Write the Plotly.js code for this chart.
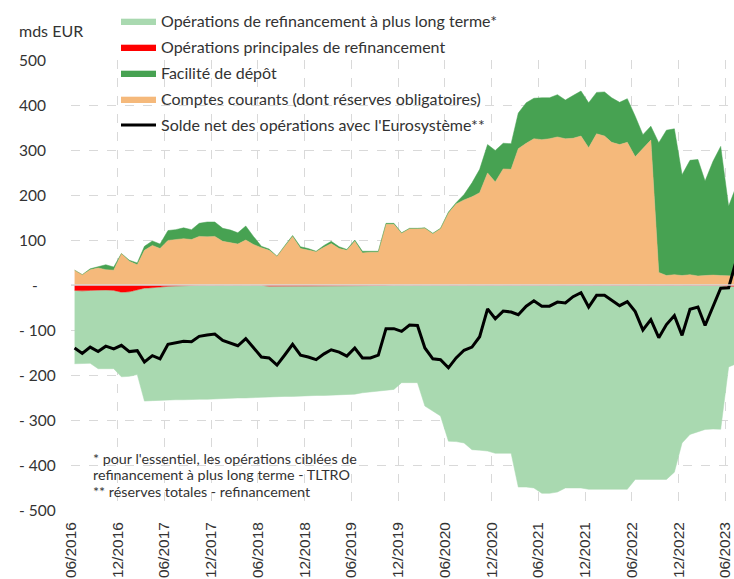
<!DOCTYPE html>
<html>
<head>
<meta charset="utf-8">
<script src="https://cdn.plot.ly/plotly-3.0.1.min.js"></script>
<style>html,body{margin:0;padding:0;background:#fff;}#chart{width:734px;height:579px;}</style>
</head>
<body>
<div id="chart"></div>
<script>
// ---- categories: monthly observations from 06/2016 ----
const startYear = 2016, startMonth = 6, nMonths = 86;
const months = [];
for (let i = 0; i < nMonths; i++) {
  const y = startYear + Math.floor((startMonth - 1 + i) / 12);
  const mo = (startMonth - 1 + i) % 12 + 1;
  months.push(y + '-' + String(mo).padStart(2, '0') + '-15');
}

// ---- series (mds EUR) ----
const comptesCourants = [33,23,34,38,34,33,70,53,45,77,
  88,81,99,101,103,101,108,107,108,97,
  94,91,100,90,83,77,64,86,108,81,
  78,74,84,92,81,77,97,71,73,73,
  135,135,115,125,125,126,114,125,160,180,
  189,196,205,249,229,258,257,303,315,325,
  323,325,329,325,326,331,305,336,331,317,
  312,317,285,303,322,28,21,23,21,23,
  20,21,22,21,20,20];

const faciliteDepot = [0,0,2,3,11,7,0,2,4,9,
  10,10,22,22,24,22,29,33,32,29,
  28,25,31,18,3,3,0,2,2,4,
  3,1,4,5,4,2,3,4,2,2,
  2,2,1,1,1,1,1,1,2,3,
  12,31,52,63,70,57,57,79,90,90,
  93,91,94,86,95,100,100,92,98,99,
  94,97,90,31,31,288,323,324,224,254,
  259,210,253,287,155,200];

const oprPrincipales = [-12,-13,-12,-11,-11,-12,-16,-15,-10,-7,
  -6,-4,-3,-2,-1,-1,-0.5,-0.5,-0.5,-0.5,
  -0.5,-0.5,-0.5,-0.5,-0.5,-2.5,-2.5,-2.5,-2.5,-2.5,
  -2.5,-2.5,-2.5,-2.5,-2.5,-2.5,-2.5,-2.5,-1,-1,
  -1,-0.5,-0.5,-0.5,-0.5,-0.5,-0.5,-0.5,-0.5,-0.5,
  -0.5,-0.5,-0.5,-0.5,-0.5,-0.5,-0.5,-0.5,-0.5,-0.5,
  -0.5,-0.5,-0.5,-0.5,-0.5,-0.5,-0.5,-0.5,-0.5,-0.5,
  -0.5,-0.5,-0.5,-0.5,-0.5,-0.5,-0.5,-0.5,-0.5,-0.5,
  -0.5,-0.5,-0.5,-1,-3,-3];

const oprLongTerme = [-163,-162,-162,-175,-175,-174,-188,-188,-189,-251,
  -251,-252,-253,-253,-254,-253,-253.5,-253.5,-252.5,-252.5,
  -251.5,-250.5,-250.5,-249.5,-249.5,-246,-246,-245,-245,-244,
  -244,-243,-243,-242,-241,-240,-240,-237,-237,-235,
  -233,-231.5,-216.5,-216.5,-216.5,-268.5,-279.5,-290.5,-346.5,-347.5,
  -350.5,-365.5,-366.5,-368.5,-373.5,-373.5,-373.5,-448.5,-448.5,-450.5,
  -462.5,-462.5,-459.5,-450.5,-450.5,-450.5,-453.5,-453.5,-453.5,-453.5,
  -453.5,-453.5,-431.5,-431.5,-431.5,-431.5,-431.5,-415.5,-350.5,-331.5,
  -325.5,-320.5,-319.5,-319.5,-179,-172];

const soldeNet = [-140,-152,-138,-148,-136,-142,-134,-148,-146,-171,
  -157,-164,-132,-129,-125,-126,-114,-111,-109,-123,
  -130,-135,-119,-140,-160,-162,-178,-155,-132,-156,
  -160,-166,-153,-144,-149,-158,-140,-162,-162,-156,
  -97,-97,-103,-89,-90,-140,-164,-166,-184,-162,
  -145,-138,-115,-53,-75,-58,-60,-66,-47,-35,
  -47,-47,-38,-40,-26,-17,-49,-23,-23,-34,
  -46,-37,-59,-100,-77,-117,-88,-68,-112,-54,
  -49,-90,-48,-7,-6,55];

// ---- labels ----
const seriesNames = [
  'Opérations de refinancement à plus long terme*',
  'Opérations principales de refinancement',
  'Facilité de dépôt',
  'Comptes courants (dont réserves obligatoires)',
  "Solde net des opérations avec l'Eurosystème**"
];
const xTickLabels = ['06/2016','12/2016','06/2017','12/2017','06/2018','12/2018','06/2019',
  '12/2019','06/2020','12/2020','06/2021','12/2021','06/2022','12/2022','06/2023'];
const xTickVals = xTickLabels.map(function(l){ return l.slice(3) + '-' + l.slice(0,2) + '-01'; });
const yTickVals = [500,400,300,200,100,0,-100,-200,-300,-400,-500];
const yTickText = ['500','400','300','200','100','-','- 100','- 200','- 300','- 400','- 500'];
const unitLabel = 'mds EUR';
const footnoteLines = ["* pour l'essentiel, les opérations ciblées de",
  'refinancement à plus long terme - TLTRO',
  '** réserves totales - refinancement'];

const colLTRO = '#a9d9b0', colMRO = '#ff0000', colDF = '#47a252', colCC = '#f5b97b';
const TXT = '#333333';
const FONT = 'Lato, "Open Sans", sans-serif';

const traces = [
  {x: months, y: oprPrincipales, name: seriesNames[1], type: 'scatter', mode: 'lines',
   stackgroup: 'neg', fillcolor: colMRO, line: {color: colMRO, width: 0.5},
   legendgroup: 'g2', legendrank: 2},
  {x: months, y: oprLongTerme, name: seriesNames[0], type: 'scatter', mode: 'lines',
   stackgroup: 'neg', fillcolor: colLTRO, line: {color: colLTRO, width: 0.5},
   legendgroup: 'g1', legendrank: 1},
  {x: months, y: comptesCourants, name: seriesNames[3], type: 'scatter', mode: 'lines',
   stackgroup: 'pos', fillcolor: colCC, line: {color: colCC, width: 0.5},
   legendgroup: 'g4', legendrank: 4},
  {x: months, y: faciliteDepot, name: seriesNames[2], type: 'scatter', mode: 'lines',
   stackgroup: 'pos', fillcolor: colDF, line: {color: colDF, width: 0.5},
   legendgroup: 'g3', legendrank: 3},
  {x: months, y: soldeNet, name: seriesNames[4], type: 'scatter', mode: 'lines',
   line: {color: '#000000', width: 3}, legendgroup: 'g5', legendrank: 5}
];

const plotW = 734 - 71;
const annotations = yTickVals.map(function(v, i){
  return {xref: 'paper', yref: 'y', x: (i === 5 ? (30 - 71) : (17 - 71)) / plotW, y: v,
    xanchor: 'left', yanchor: 'middle', text: yTickText[i], showarrow: false,
    font: {family: FONT, size: 15.5, color: TXT}};
});
annotations.push({xref: 'paper', yref: 'paper', x: (17 - 71) / plotW, y: (510 - 30) / 450,
  xanchor: 'left', yanchor: 'middle', text: unitLabel, showarrow: false,
  font: {family: FONT, size: 16, color: TXT}});
const footY = [458, 474.5, 491];
footnoteLines.forEach(function(t, i){
  annotations.push({xref: 'paper', yref: 'paper', x: (91 - 71) / plotW, y: (510 - footY[i]) / 450,
    xanchor: 'left', yanchor: 'middle', align: 'left', text: t, showarrow: false,
    font: {family: FONT, size: 14.3, color: TXT}});
});

const layout = {
  width: 734, height: 579,
  margin: {l: 71, r: 0, t: 60, b: 69, pad: 0},
  paper_bgcolor: '#ffffff', plot_bgcolor: '#ffffff',
  showlegend: true,
  legend: {x: (116 - 71) / plotW, y: (510 - 4) / 450, xanchor: 'left', yanchor: 'top',
    bgcolor: 'rgba(0,0,0,0)', borderwidth: 0, traceorder: 'grouped', tracegroupgap: 2.2,
    itemwidth: 35,
    font: {family: FONT, size: 16, color: TXT}},
  xaxis: {type: 'date', range: ['2016-06-01', '2023-07-06'],
    tickmode: 'array', tickvals: xTickVals, ticktext: xTickLabels, tickangle: -90,
    tickfont: {family: '"Liberation Sans", Arial, sans-serif', size: 15.5, color: TXT},
    ticks: '', ticklabelstandoff: 8,
    showgrid: true, gridcolor: '#d9d9d9', griddash: 'dash', gridwidth: 1,
    zeroline: false, showline: false, fixedrange: true},
  yaxis: {range: [-500, 500], tickmode: 'array', tickvals: yTickVals, showticklabels: false,
    ticks: '', showgrid: true, gridcolor: '#d9d9d9', griddash: 'dash', gridwidth: 1,
    zeroline: false, showline: false, fixedrange: true},
  shapes: [{type: 'line', xref: 'paper', x0: 0, x1: 1, yref: 'y', y0: 0, y1: 0,
    line: {color: '#d9d9d9', width: 1.5}, layer: 'above'}],
  annotations: annotations
};

Plotly.newPlot('chart', traces, layout, {staticPlot: true, displayModeBar: false});
</script>
</body>
</html>
